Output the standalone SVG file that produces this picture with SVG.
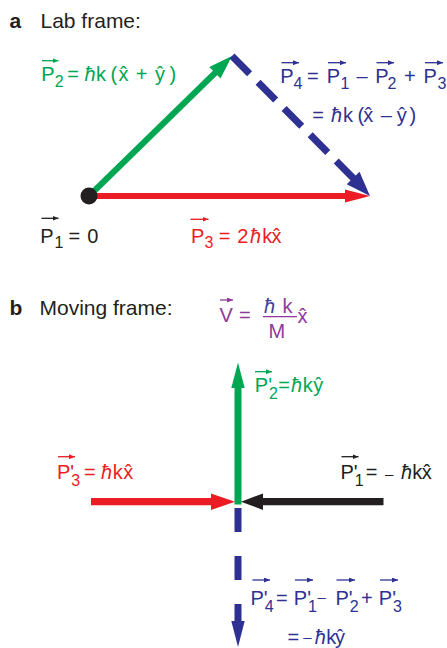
<svg xmlns="http://www.w3.org/2000/svg" width="447" height="648" viewBox="0 0 447 648">
<style>
text{font-family:"Liberation Sans",Arial,sans-serif;font-size:20px}
.hd{font-size:21px}
.bd{font-weight:bold}
.s{font-size:16px}
.i{font-style:italic}
.sd{font-size:15px}
.pr{letter-spacing:-3px}
.g{fill:#00a651}.r{fill:#ec1c24}.b{fill:#2e3192}.k{fill:#231f20}.p{fill:#8e3a9c}.pb{fill:#3d3f9b}
.va{stroke-width:1.3;fill:none}
.vg{stroke:#00a651}.vr{stroke:#ec1c24}.vb{stroke:#2e3192}.vk{stroke:#231f20}.vp{stroke:#8e3a9c}
.lg{stroke:#00a651;fill:none}.lr{stroke:#ec1c24;fill:none}.lb{stroke:#2e3192;fill:none}.lk{stroke:#231f20;fill:none}
.hg{fill:#00a651}.hr{fill:#ec1c24}.hb{fill:#2e3192}.hk{fill:#231f20}
</style>
<defs>
<marker id="mg" viewBox="0 0 6 5" refX="6" refY="2.5" markerWidth="6" markerHeight="5" orient="auto" markerUnits="userSpaceOnUse"><path d="M0,0L6,2.5L0,5z" fill="#00a651"/></marker>
<marker id="mr" viewBox="0 0 6 5" refX="6" refY="2.5" markerWidth="6" markerHeight="5" orient="auto" markerUnits="userSpaceOnUse"><path d="M0,0L6,2.5L0,5z" fill="#ec1c24"/></marker>
<marker id="mb" viewBox="0 0 6 5" refX="6" refY="2.5" markerWidth="6" markerHeight="5" orient="auto" markerUnits="userSpaceOnUse"><path d="M0,0L6,2.5L0,5z" fill="#2e3192"/></marker>
<marker id="mk" viewBox="0 0 6 5" refX="6" refY="2.5" markerWidth="6" markerHeight="5" orient="auto" markerUnits="userSpaceOnUse"><path d="M0,0L6,2.5L0,5z" fill="#231f20"/></marker>
<marker id="mp" viewBox="0 0 6 5" refX="6" refY="2.5" markerWidth="6" markerHeight="5" orient="auto" markerUnits="userSpaceOnUse"><path d="M0,0L6,2.5L0,5z" fill="#8e3a9c"/></marker>
</defs>

<g id="titles">
<text class="k hd bd" x="9.5" y="28">a</text>
<text class="k hd" x="40.5" y="28">Lab frame:</text>
<text class="k hd bd" x="9.5" y="315">b</text>
<text class="k hd" x="39.5" y="315">Moving frame:</text>
</g>

<g id="connectors">
<g id="lab-P2">
<line class="lg" x1="89" y1="196" x2="216" y2="72" stroke-width="6"/>
<polygon class="hg" points="220.5,78.5 232,56 209.3,67.1"/>
</g>
<g id="lab-P3">
<line class="lr" x1="89" y1="196" x2="348" y2="196" stroke-width="6"/>
<polygon class="hr" points="345,189.5 370,196 345,202.5"/>
</g>
<g id="lab-P4">
<line class="lb" x1="232" y1="56" x2="354" y2="179" stroke-width="7" stroke-dasharray="25 12"/>
<polygon class="hb" points="359.5,171.7 370,196 346.7,184.3"/>
</g>
<circle id="lab-P1" class="hk" cx="89" cy="196" r="8.5"/>
<g id="mov-P2">
<line class="lg" x1="238" y1="504.5" x2="238" y2="387" stroke-width="7"/>
<polygon class="hg" points="231.3,388 238,362.5 244.7,388"/>
</g>
<g id="mov-P3">
<line class="lr" x1="91" y1="501.7" x2="212" y2="501.7" stroke-width="7.3"/>
<polygon class="hr" points="211,493.4 235,501.7 211,510"/>
</g>
<g id="mov-P1">
<line class="lk" x1="383.5" y1="501.7" x2="262" y2="501.7" stroke-width="7.3"/>
<polygon class="hk" points="263,493.4 241,501.7 263,510"/>
</g>
<g id="mov-P4">
<line class="lb" x1="238" y1="508" x2="238" y2="622" stroke-width="7" stroke-dasharray="24 24"/>
<polygon class="hb" points="231.3,621 238,647 244.7,621"/>
</g>
</g>

<g id="label-lab-P2">
<line class="va vg" x1="42" y1="60.7" x2="58.5" y2="60.7" marker-end="url(#mg)"/>
<text class="g"><tspan x="41.2" y="81">P</tspan><tspan class="s" x="54.8" y="86.5">2</tspan><tspan x="67.3" y="81">=</tspan><tspan class="i" x="84.5" y="81">ħ</tspan><tspan x="96" y="81">k</tspan><tspan x="110.5" y="81">(</tspan><tspan x="118.5" y="81">x̂</tspan><tspan x="135.7" y="81">+</tspan><tspan x="155" y="81">ŷ</tspan><tspan x="169.5" y="81">)</tspan></text>
</g>

<g id="label-lab-P4">
<line class="va vb" x1="281.5" y1="62.7" x2="299" y2="62.7" marker-end="url(#mb)"/>
<line class="va vb" x1="328" y1="62.7" x2="346" y2="62.7" marker-end="url(#mb)"/>
<line class="va vb" x1="376.5" y1="62.7" x2="394" y2="62.7" marker-end="url(#mb)"/>
<line class="va vb" x1="425" y1="62.7" x2="443" y2="62.7" marker-end="url(#mb)"/>
<text class="b"><tspan x="280.2" y="83.3">P</tspan><tspan class="s" x="293.5" y="89">4</tspan><tspan x="307" y="83.3">=</tspan><tspan x="326.8" y="83.3">P</tspan><tspan class="s" x="340.5" y="89">1</tspan><tspan x="356.5" y="83.3">–</tspan><tspan x="375.2" y="83.3">P</tspan><tspan class="s" x="387.5" y="89">2</tspan><tspan x="404" y="83.3">+</tspan><tspan x="423.5" y="83.3">P</tspan><tspan class="s" x="437.5" y="89">3</tspan></text>
<text class="b"><tspan x="312.3" y="121.7">=</tspan><tspan class="i" x="331" y="121.7">ħ</tspan><tspan x="343" y="121.7">k</tspan><tspan x="357.5" y="121.7">(</tspan><tspan x="363.3" y="121.7">x̂</tspan><tspan x="380.7" y="121.7">–</tspan><tspan x="396.7" y="121.7">ŷ</tspan><tspan x="409.5" y="121.7">)</tspan></text>
</g>

<g id="label-lab-P1">
<line class="va vk" x1="41.5" y1="218.3" x2="58.5" y2="218.3" marker-end="url(#mk)"/>
<text class="k"><tspan x="40.2" y="242.7">P</tspan><tspan class="s" x="54.5" y="248">1</tspan><tspan x="68.5" y="242.7">=</tspan><tspan x="87.3" y="242.7">0</tspan></text>
</g>

<g id="label-lab-P3">
<line class="va vr" x1="190.5" y1="219.3" x2="208.5" y2="219.3" marker-end="url(#mr)"/>
<text class="r"><tspan x="191" y="242.7">P</tspan><tspan class="s" x="204.5" y="248">3</tspan><tspan x="218.8" y="242.7">=</tspan><tspan x="237.3" y="242.7">2</tspan><tspan class="i" x="250" y="242.7">ħ</tspan><tspan x="262.3" y="242.7">k</tspan><tspan x="271.5" y="242.7">x̂</tspan></text>
</g>

<g id="label-V">
<line class="va vp" x1="220" y1="300" x2="233" y2="300" marker-end="url(#mp)"/>
<line x1="263" y1="316.7" x2="297" y2="316.7" stroke="#8e3a9c" stroke-width="1.3"/>
<text class="p"><tspan x="219.5" y="322">V</tspan><tspan x="239" y="322">=</tspan><tspan class="pb i" x="264" y="313">ħ</tspan><tspan x="282.5" y="313">k</tspan><tspan x="268.5" y="337.5">M</tspan><tspan x="297.5" y="322.5">x̂</tspan></text>
</g>

<g id="label-mov-P2">
<line class="va vg" x1="255" y1="371.7" x2="272" y2="371.7" marker-end="url(#mg)"/>
<text class="g"><tspan x="254.8" y="391.7">P</tspan><tspan class="pr">'</tspan><tspan class="s" x="269.1" y="398.5">2</tspan><tspan x="278.3" y="391.7">=</tspan><tspan class="i" x="291" y="391.7">ħ</tspan><tspan x="302.8" y="391.7">k</tspan><tspan x="313.3" y="391.7">ŷ</tspan></text>
</g>

<g id="label-mov-P3">
<line class="va vr" x1="58" y1="456.7" x2="75" y2="456.7" marker-end="url(#mr)"/>
<text class="r"><tspan x="57" y="479.3">P</tspan><tspan class="pr">'</tspan><tspan class="s" x="71.3" y="486">3</tspan><tspan x="84" y="479.3">=</tspan><tspan class="i" x="101" y="479.3">ħ</tspan><tspan x="112.8" y="479.3">k</tspan><tspan x="123.3" y="479.3">x̂</tspan></text>
</g>

<g id="label-mov-P1">
<line class="va vk" x1="341.5" y1="456.7" x2="358.5" y2="456.7" marker-end="url(#mk)"/>
<text class="k"><tspan x="340.4" y="479.3">P</tspan><tspan class="pr">'</tspan><tspan class="s" x="354.7" y="486">1</tspan><tspan x="365.7" y="479.3">=</tspan><tspan class="sd" x="385" y="478.5">–</tspan><tspan class="i" x="401" y="479.3">ħ</tspan><tspan x="412.3" y="479.3">k</tspan><tspan x="421.8" y="479.3">x̂</tspan></text>
</g>

<g id="label-mov-P4">
<line class="va vb" x1="252.5" y1="580" x2="270" y2="580" marker-end="url(#mb)"/>
<line class="va vb" x1="295" y1="580" x2="313" y2="580" marker-end="url(#mb)"/>
<line class="va vb" x1="336.5" y1="580" x2="355" y2="580" marker-end="url(#mb)"/>
<line class="va vb" x1="380" y1="580" x2="398" y2="580" marker-end="url(#mb)"/>
<text class="b"><tspan x="250.4" y="605">P</tspan><tspan class="pr">'</tspan><tspan class="s" x="264.7" y="611.5">4</tspan><tspan x="275.9" y="605">=</tspan><tspan x="293.8" y="605">P</tspan><tspan class="pr">'</tspan><tspan class="s" x="308.1" y="611.5">1</tspan><tspan class="sd" x="317.5" y="602">–</tspan><tspan x="335.4" y="605">P</tspan><tspan class="pr">'</tspan><tspan class="s" x="349.7" y="611.5">2</tspan><tspan x="360.9" y="605">+</tspan><tspan x="378.8" y="605">P</tspan><tspan class="pr">'</tspan><tspan class="s" x="393.1" y="611.5">3</tspan></text>
<text class="b"><tspan x="287.5" y="644">=</tspan><tspan class="sd" x="303.3" y="642">–</tspan><tspan class="i" x="314.8" y="644">ħ</tspan><tspan x="326.3" y="644">k</tspan><tspan x="335" y="644">ŷ</tspan></text>
</g>
</svg>
